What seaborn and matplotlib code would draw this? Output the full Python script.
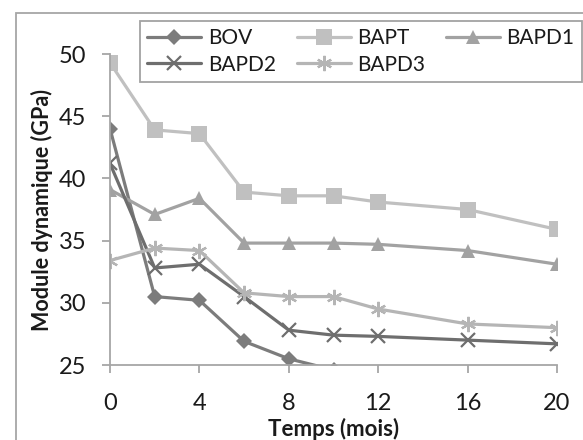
import matplotlib
matplotlib.use("Agg")
import matplotlib.pyplot as plt
import seaborn as sns
import pandas as pd
from matplotlib.patches import Rectangle

# mois
temps = [0, 2, 4, 6, 8, 10, 12, 16, 20]

# module dynamique (GPa)
bov = [44.0, 30.5, 30.2, 26.9, 25.5, 24.6, 24.3, 24.0, 23.8]
bapt = [49.3, 43.9, 43.6, 38.9, 38.6, 38.6, 38.1, 37.5, 35.9]
bapd1 = [39.1, 37.1, 38.4, 34.8, 34.8, 34.8, 34.7, 34.2, 33.1]
bapd2 = [41.2, 32.8, 33.1, 30.5, 27.8, 27.4, 27.3, 27.0, 26.7]
bapd3 = [33.4, 34.4, 34.2, 30.8, 30.5, 30.5, 29.5, 28.3, 28.0]

series = ["BOV", "BAPT", "BAPD1", "BAPD2", "BAPD3"]
rows = []
for nom, vals in zip(series, [bov, bapt, bapd1, bapd2, bapd3]):
    for t, v in zip(temps, vals):
        rows.append({"Temps": t, "Module": v, "Serie": nom})
df = pd.DataFrame(rows)

sns.set_style("white")
plt.rcParams['font.family'] = ['Lato', 'DejaVu Sans']

couleurs = {"BOV": "#7c7c7c", "BAPT": "#c0c0c0", "BAPD1": "#a2a2a2",
            "BAPD2": "#6e6e6e", "BAPD3": "#b5b5b5"}
marqueurs = {"BOV": "D", "BAPT": "s", "BAPD1": "^", "BAPD2": "x", "BAPD3": (6, 2, 0)}
tailles = {"BOV": 8, "BAPT": 11.5, "BAPD1": 10.5, "BAPD2": 10, "BAPD3": 11}

fig = plt.figure(figsize=(5.83, 4.4), dpi=100)
ax = fig.add_axes([110 / 583, 1 - 365 / 440, (557 - 110) / 583, (365 - 54) / 440])

for nom in series:
    sub = df[df["Serie"] == nom]
    sns.lineplot(data=sub, x="Temps", y="Module", ax=ax, color=couleurs[nom],
                 linewidth=2.3, marker=marqueurs[nom], markersize=tailles[nom],
                 markeredgecolor=couleurs[nom],
                 markeredgewidth=1.6 if nom in ("BAPD2", "BAPD3") else 0,
                 label=nom)
h, l = ax.get_legend_handles_labels()
handles = dict(zip(l, h))

ax.set_xlim(0, 20)
ax.set_ylim(25, 50)
ax.set_xticks([0, 4, 8, 12, 16, 20])
ax.set_yticks([25, 30, 35, 40, 45, 50])
for s in ["top", "right"]:
    ax.spines[s].set_visible(False)
for s in ["left", "bottom"]:
    ax.spines[s].set_color("#a6a6a6")
    ax.spines[s].set_linewidth(1.3)
ax.tick_params(axis="both", labelsize=17, colors="#a6a6a6", labelcolor="#1a1a1a",
               length=6, width=1.3, direction="out", left=True, bottom=True)
ax.tick_params(axis="x", pad=14)
ax.tick_params(axis="y", pad=11)
ax.set_xlabel("Temps (mois)", fontsize=16, fontweight="bold", color="#1a1a1a", labelpad=3)
ax.set_ylabel("Module dynamique (GPa)", fontsize=15.5, fontweight="bold", color="#1a1a1a", labelpad=4)

# ordre pour un remplissage ligne par ligne
ordre = ["BOV", "BAPD2", "BAPT", "BAPD3", "BAPD1"]
leg = ax.legend([handles[n] for n in ordre], ordre, ncol=3, loc="upper left",
                bbox_to_anchor=(140 / 583, 1 - 21 / 440),
                bbox_transform=fig.transFigure, borderaxespad=0, fontsize=15,
                frameon=True, fancybox=False, handlelength=2.6, columnspacing=1.0,
                handletextpad=0.3, borderpad=0.35, labelspacing=0.3)
leg.get_frame().set_edgecolor("#8c8c8c")
leg.get_frame().set_linewidth(1.3)
for t in leg.get_texts():
    t.set_color("#1a1a1a")

fig.patches.append(Rectangle((16 / 583, -0.1), 1.2, 1 - 13 / 440 + 0.1,
                             transform=fig.transFigure, fill=False,
                             edgecolor="#a6a6a6", linewidth=1.3))

fig.savefig("out.png", dpi=100)
